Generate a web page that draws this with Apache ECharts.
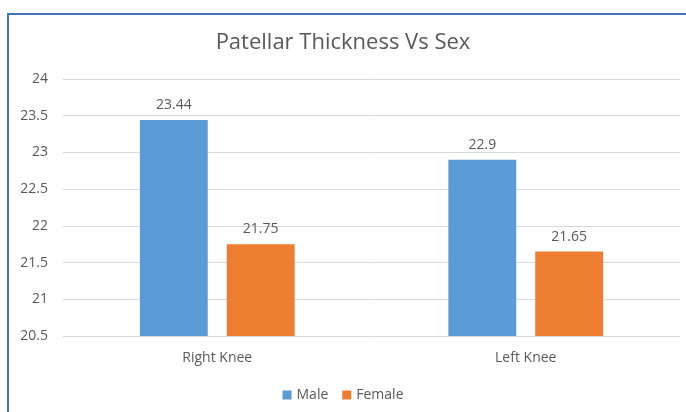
<!DOCTYPE html>
<html>
<head>
<meta charset="utf-8">
<script src="https://cdn.jsdelivr.net/npm/echarts@6/dist/echarts.min.js"></script>
<style>
  html, body { margin: 0; padding: 0; background: #fff; }
  #frame { position: absolute; left: 7px; top: 13px; width: 690px; height: 410px;
           border-top: 2px solid #4472C4; border-left: 2px solid #4472C4; }
  #chart { position: absolute; left: 0; top: 0; width: 686px; height: 412px; }
</style>
</head>
<body>
<div id="frame"></div>
<div id="chart"></div>
<script>
const categories = ['Right Knee', 'Left Knee']
const maleValues = [23.44, 22.9]
const femaleValues = [21.75, 21.65]
const seriesNames = ['Male', 'Female']

const textColor = '#595959'
const fontFamily = '"Open Sans", "Noto Sans", sans-serif'

var chart = echarts.init(document.getElementById('chart'))

let option = {
    textStyle: { fontFamily: fontFamily },
    title: {
        text: 'Patellar Thickness Vs Sex',
        left: 'center',
        top: 27,
        textStyle: {
            color: textColor,
            fontSize: 22,
            fontWeight: 'normal',
            fontFamily: fontFamily
        }
    },
    legend: {
        data: seriesNames,
        bottom: 5,
        left: 'center',
        itemWidth: 9,
        itemHeight: 9,
        itemGap: 14,
        icon: 'rect',
        textStyle: { color: textColor, fontSize: 14 }
    },
    grid: {
        left: 63,
        right: 6,
        top: 79,
        bottom: 76
    },
    xAxis: {
        type: 'category',
        data: categories,
        axisTick: { show: false },
        axisLine: { show: false },
        axisLabel: { color: textColor, fontSize: 14, margin: 15 }
    },
    yAxis: {
        type: 'value',
        min: 20.5,
        max: 24,
        interval: 0.5,
        axisLine: { show: false },
        axisTick: { show: false },
        axisLabel: { color: textColor, fontSize: 14, margin: 15 },
        splitLine: { lineStyle: { color: '#d9d9d9', width: 1 } }
    },
    series: [
        {
            name: 'Male',
            type: 'bar',
            data: maleValues,
            barWidth: '22%',
            barGap: '28%',
            itemStyle: { color: '#5B9BD5' },
            label: { show: true, position: 'top', color: textColor, fontSize: 14, distance: 8 }
        },
        {
            name: 'Female',
            type: 'bar',
            data: femaleValues,
            barWidth: '22%',
            itemStyle: { color: '#ED7D31' },
            label: { show: true, position: 'top', color: textColor, fontSize: 14, distance: 8 }
        }
    ]
}
chart.setOption(option)
</script>
</body>
</html>
